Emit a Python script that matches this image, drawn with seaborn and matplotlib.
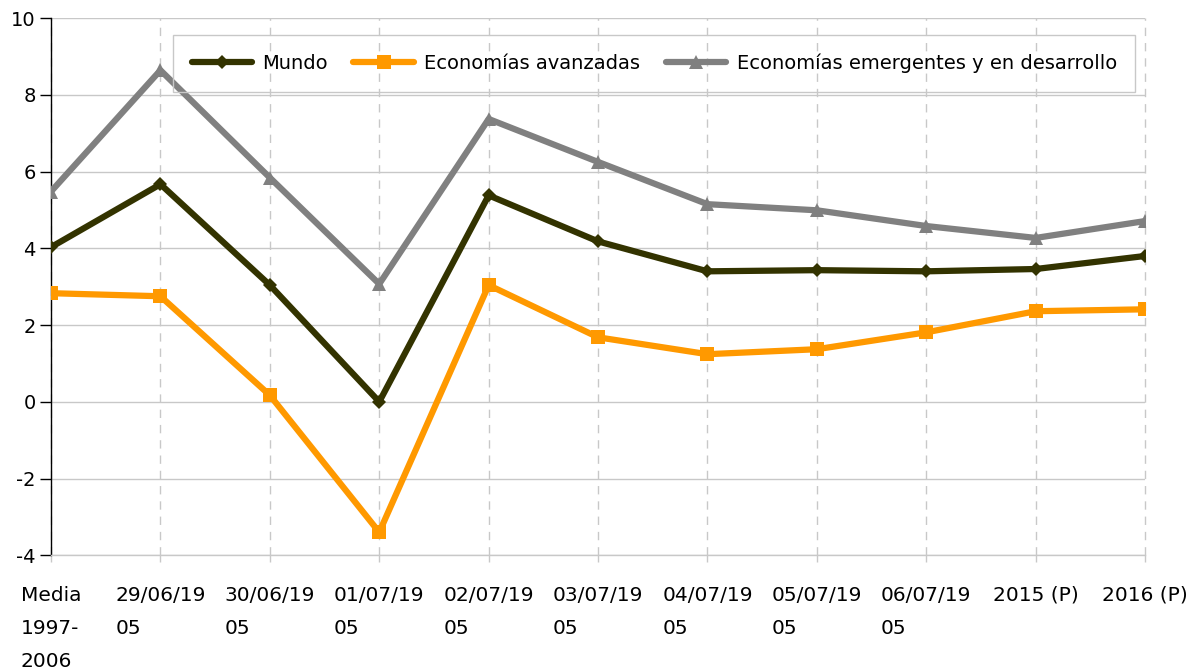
import matplotlib
matplotlib.use("Agg")
import matplotlib.pyplot as plt
import pandas as pd
import seaborn as sns

# Data
categories = ["Media\n1997-\n2006", "29/06/19\n05", "30/06/19\n05", "01/07/19\n05",
              "02/07/19\n05", "03/07/19\n05", "04/07/19\n05", "05/07/19\n05",
              "06/07/19\n05", "2015 (P)", "2016 (P)"]
mundo = [4.03, 5.67, 3.04, 0.0, 5.38, 4.18, 3.40, 3.43, 3.40, 3.46, 3.80]
avanzadas = [2.83, 2.75, 0.17, -3.40, 3.04, 1.68, 1.24, 1.37, 1.81, 2.36, 2.41]
emergentes = [5.48, 8.64, 5.84, 3.07, 7.37, 6.25, 5.15, 4.99, 4.58, 4.27, 4.71]

series_names = ["Mundo", "Economías avanzadas", "Economías emergentes y en desarrollo"]
colors = ["#333300", "#FF9900", "#808080"]
markers = ["D", "s", "^"]
msizes = [7, 10, 10]

df = pd.DataFrame({"pos": list(range(len(categories))) * 3,
                   "serie": [s for s in series_names for _ in categories],
                   "valor": mundo + avanzadas + emergentes})

sns.set_style("white")
plt.rcParams["font.family"] = ["DejaVu Sans"]
plt.rcParams["axes.unicode_minus"] = False
plt.rcParams["text.color"] = "black"
plt.rcParams["xtick.labelcolor"] = "black"
plt.rcParams["ytick.labelcolor"] = "black"

fig = plt.figure(figsize=(11.87, 6.69), dpi=100)
ax = fig.add_axes([0.043, 0.170, 0.9217, 0.803])

for name, col, mk, ms in zip(series_names, colors, markers, msizes):
    sns.lineplot(data=df[df["serie"] == name], x="pos", y="valor", color=col,
                 marker=mk, markersize=ms, markeredgewidth=0, linewidth=4.5,
                 label=name, ax=ax, zorder=3)

ax.set_xlim(0, len(categories) - 1)
ax.set_ylim(-4, 10)
ax.set_yticks(range(-4, 11, 2))
ax.set_xticks(range(len(categories)))
ax.set_xticklabels(categories, multialignment="left", linespacing=1.95, va="top")
ax.set_xlabel("")
ax.set_ylabel("")

ax.grid(axis="y", color="#c8c8c8", linewidth=1, linestyle="-")
ax.grid(axis="x", color="#c8c8c8", linewidth=1, linestyle=(0, (6, 5)))
ax.set_axisbelow(True)
for gl in ax.xaxis.get_gridlines():
    gl.set_clip_on(False)

for s in ["top", "right"]:
    ax.spines[s].set_visible(False)
ax.spines["left"].set_color("black")
ax.spines["left"].set_linewidth(1)
ax.spines["bottom"].set_color("#c8c8c8")
ax.spines["bottom"].set_linewidth(1)

ax.tick_params(axis="y", direction="out", length=8, width=1, color="black",
               labelsize=14, pad=3, left=True)
ax.tick_params(axis="x", direction="out", length=5, width=1, color="#c8c8c8",
               labelsize=14.5, pad=17, bottom=True)

leg = ax.legend(loc="upper left", bbox_to_anchor=(0.1115, 0.968), ncol=3,
                fontsize=14, frameon=True, fancybox=False, framealpha=1,
                facecolor="none", edgecolor="#c8c8c8", handlelength=3.1,
                borderpad=0.95, borderaxespad=0, columnspacing=1.3,
                handletextpad=0.55)
leg.get_frame().set_linewidth(1)

fig.savefig("out.png", dpi=100)
